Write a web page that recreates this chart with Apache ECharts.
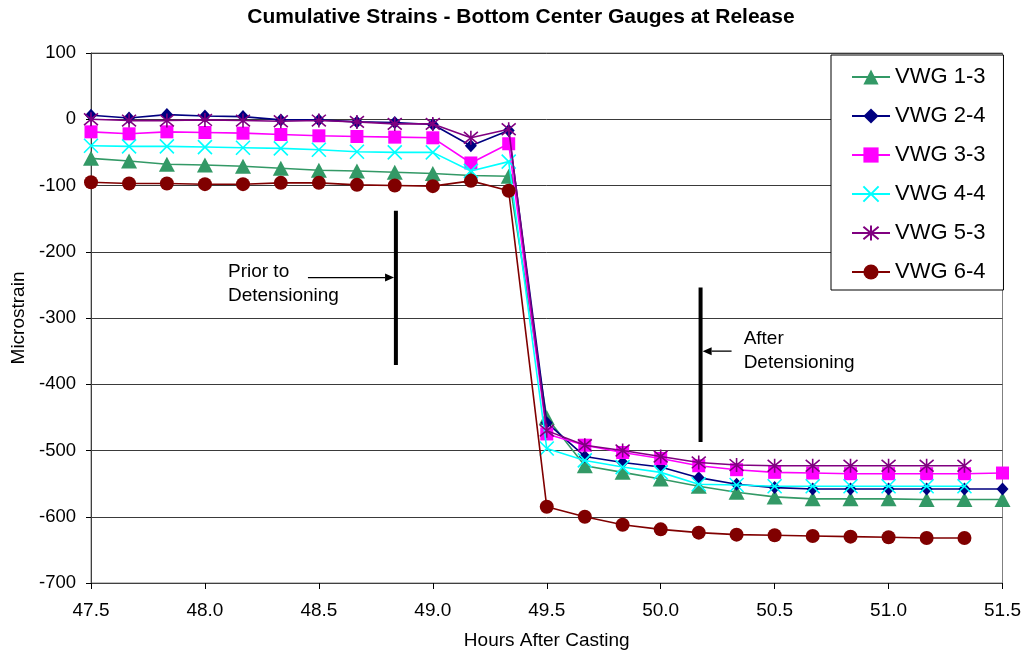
<!DOCTYPE html>
<html>
<head>
<meta charset="utf-8">
<title>Cumulative Strains - Bottom Center Gauges at Release</title>
<script src="https://cdn.jsdelivr.net/npm/echarts@6/dist/echarts.min.js"></script>
<style>
  html, body { margin: 0; padding: 0; background: #fff; }
  #chart { width: 1024px; height: 655px; }
</style>
</head>
<body>
<div id="chart"></div>
<script>
// Readings every 10 minutes around strand release
const hours = [47.5, 47.667, 47.833, 48.0, 48.167, 48.333, 48.5, 48.667, 48.833, 49.0,
               49.167, 49.333, 49.5, 49.667, 49.833, 50.0, 50.167, 50.333, 50.5, 50.667,
               50.833, 51.0, 51.167, 51.333, 51.5];

const vwg13 = [-59, -63, -68, -69, -71, -74, -77, -78, -80, -82, -85, -86,
               -450, -523, -533, -543, -554, -563, -570, -573, -573, -573, -574, -574, -574];
const vwg24 = [6, 2, 7, 5, 4, -1, -1, -4, -5, -8, -40, -17,
               -458, -509, -518, -525, -541, -551, -556, -558, -558, -558, -558, -558, -558];
const vwg33 = [-19, -22, -19, -20, -21, -23, -25, -26, -27, -28, -66, -37,
               -475, -492, -503, -512, -523, -529, -533, -534, -535, -535, -535, -535, -534];
const vwg44 = [-40, -41, -41, -42, -43, -44, -46, -49, -50, -50, -78, -64,
               -497, -515, -525, -533, -551, -552, -554, -554, -554, -554, -554, -554, null];
const vwg53 = [0, -2, -2, -1, -2, -3, -2, -4, -7, -7, -28, -15,
               -470, -492, -500, -509, -518, -522, -523, -523, -523, -523, -523, -523, null];
const vwg64 = [-95, -97, -97, -98, -98, -96, -96, -99, -100, -101, -93, -108,
               -585, -600, -612, -619, -624, -627, -628, -629, -630, -631, -632, -632, null];

const seriesNames = ['VWG 1-3', 'VWG 2-4', 'VWG 3-3', 'VWG 4-4', 'VWG 5-3', 'VWG 6-4'];
const seriesValues = [vwg13, vwg24, vwg33, vwg44, vwg53, vwg64];
const seriesColors = ['#339966', '#000080', '#FF00FF', '#00FFFF', '#800080', '#800000'];

const xTicks = { min: 47.5, max: 51.5, step: 0.5 };
const yTicks = { min: -700, max: 100, step: 100 };

const FONT = "'Liberation Sans', Arial, Helvetica, sans-serif";

// Marker shapes: triangle, diamond, square, cross, asterisk, circle
const crossPath = 'path://M0,0L10,10M10,0L0,10';
const starPath = 'path://M0,0L10,10M10,0L0,10M5,-1L5,11';
const markerDefs = [
  { symbol: 'triangle', size: [16, 15], stroke: false },
  { symbol: 'diamond', size: [12, 13], stroke: false },
  { symbol: 'rect', size: [13, 13], stroke: false },
  { symbol: crossPath, size: [14, 14], stroke: true },
  { symbol: starPath, size: [14, 14], stroke: true },
  { symbol: 'circle', size: [14, 14], stroke: false }
];

function pairs(values) {
  const out = [];
  for (let i = 0; i < hours.length; i++) {
    if (values[i] !== null && values[i] !== undefined) out.push([hours[i], values[i]]);
  }
  return out;
}

const series = seriesNames.map((name, i) => {
  const m = markerDefs[i];
  const c = seriesColors[i];
  return {
    name: name,
    type: 'line',
    data: pairs(seriesValues[i]),
    symbol: m.symbol,
    symbolSize: m.size,
    showAllSymbol: true,
    lineStyle: { color: c, width: 1.6 },
    itemStyle: m.stroke
      ? { color: c, borderColor: c, borderWidth: 1.6 }
      : { color: c, borderWidth: 0 },
    emphasis: { disabled: true },
    z: 2 + i
  };
});

const chart = echarts.init(document.getElementById('chart'), null, { renderer: 'canvas' });

chart.setOption({
  animation: false,
  backgroundColor: '#fff',
  textStyle: { fontFamily: FONT },
  title: {
    text: 'Cumulative Strains - Bottom Center Gauges at Release',
    left: 521,
    top: 7,
    textAlign: 'center',
    padding: 0,
    textStyle: { fontFamily: FONT, fontSize: 21, fontWeight: 'bold', color: '#000' }
  },
  grid: {
    left: 91, right: 21, top: 53, bottom: 70,
    show: true, borderColor: '#808080', borderWidth: 1, backgroundColor: '#fff'
  },
  legend: {
    orient: 'vertical',
    left: 831,
    top: 55,
    backgroundColor: '#fff',
    borderColor: '#000',
    borderWidth: 1,
    borderRadius: 0,
    padding: [11, 18, 7, 20],
    itemGap: 17,
    itemWidth: 38,
    itemHeight: 19,
    selectedMode: false,
    data: seriesNames,
    textStyle: { fontFamily: FONT, fontSize: 22, lineHeight: 22, color: '#000' }
  },
  xAxis: {
    type: 'value',
    min: xTicks.min,
    max: xTicks.max,
    interval: xTicks.step,
    name: 'Hours After Casting',
    nameLocation: 'middle',
    nameGap: 48,
    nameTextStyle: { fontFamily: FONT, fontSize: 19, color: '#000' },
    axisLine: { onZero: false, lineStyle: { color: '#404040', width: 1 } },
    axisTick: { show: true, inside: false, length: 6, lineStyle: { color: '#000' } },
    axisLabel: {
      margin: 18,
      fontFamily: FONT, fontSize: 19, color: '#000',
      formatter: v => v.toFixed(1)
    },
    splitLine: { show: false }
  },
  yAxis: {
    type: 'value',
    min: yTicks.min,
    max: yTicks.max,
    interval: yTicks.step,
    name: 'Microstrain',
    nameLocation: 'middle',
    nameGap: 62,
    nameRotate: 90,
    nameTextStyle: { fontFamily: FONT, fontSize: 19, color: '#000' },
    axisLine: { show: true, lineStyle: { color: '#404040', width: 1 } },
    axisTick: { show: true, inside: false, length: 5, lineStyle: { color: '#000' } },
    axisLabel: { margin: 15, fontFamily: FONT, fontSize: 18.5, color: '#000' },
    splitLine: { show: true, lineStyle: { color: '#3a3a3a', width: 1 } }
  },
  series: series
});

// Annotation bars, arrows and notes placed in data space
const notes = [
  {
    lines: 'Prior to\nDetensioning',
    bar: { x: 48.838, y1: -138, y2: -371 },
    arrow: { x1: 48.452, x2: 48.830, y: -239 },
    text: { x: 48.101, y: -249 }
  },
  {
    lines: 'After\nDetensioning',
    bar: { x: 50.175, y1: -254, y2: -487 },
    arrow: { x1: 50.311, x2: 50.184, y: -350 },
    text: { x: 50.364, y: -349 }
  }
];

function px(x, y) { return chart.convertToPixel({ gridIndex: 0 }, [x, y]); }

const graphics = [];
notes.forEach(n => {
  const b1 = px(n.bar.x, n.bar.y1), b2 = px(n.bar.x, n.bar.y2);
  graphics.push({
    type: 'line', z: 50,
    shape: { x1: b1[0], y1: b1[1], x2: b2[0], y2: b2[1] },
    style: { stroke: '#000', lineWidth: 4 }
  });
  const a1 = px(n.arrow.x1, n.arrow.y), a2 = px(n.arrow.x2, n.arrow.y);
  const dir = a2[0] > a1[0] ? 1 : -1;
  const headLen = 9, headHalf = 4;
  graphics.push({
    type: 'line', z: 50,
    shape: { x1: a1[0], y1: a1[1], x2: a2[0] - dir * headLen, y2: a2[1] },
    style: { stroke: '#000', lineWidth: 1.3 }
  });
  graphics.push({
    type: 'polygon', z: 50,
    shape: { points: [[a2[0], a2[1]], [a2[0] - dir * headLen, a2[1] - headHalf], [a2[0] - dir * headLen, a2[1] + headHalf]] },
    style: { fill: '#000' }
  });
  const t = px(n.text.x, n.text.y);
  graphics.push({
    type: 'text', z: 50,
    x: t[0], y: t[1],
    style: {
      text: n.lines, fill: '#000', font: '19px ' + FONT,
      lineHeight: 24, textAlign: 'left', textVerticalAlign: 'middle'
    }
  });
});

chart.setOption({ graphic: graphics });
</script>
</body>
</html>
